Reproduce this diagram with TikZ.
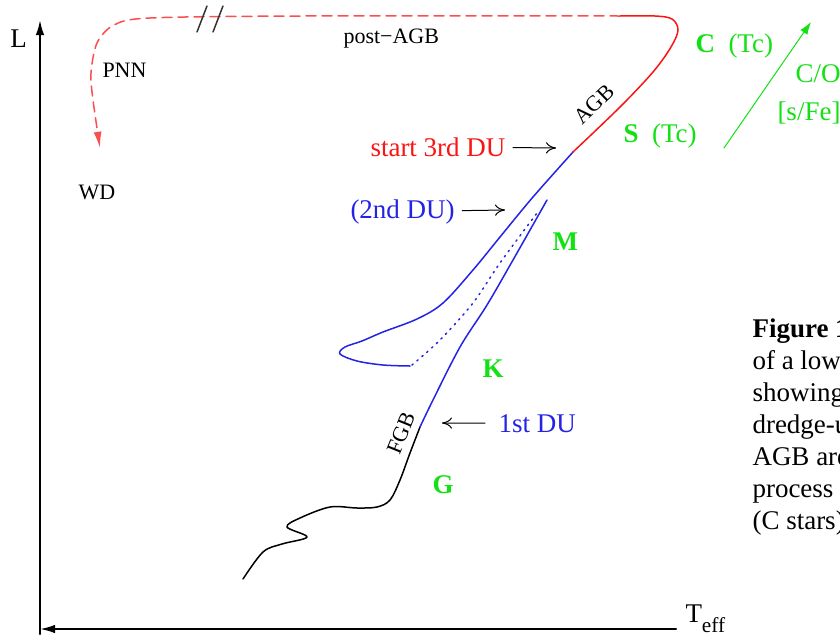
\documentclass[tikz,border=0pt]{standalone}
\usepackage{fontspec}
\setmainfont{Liberation Serif}
\usetikzlibrary{arrows.meta}
\definecolor{specgreen}{RGB}{20,225,20}
\definecolor{trackblue}{RGB}{35,35,230}
\definecolor{trackred}{RGB}{250,20,20}

\begin{document}
\begin{tikzpicture}[x=0.4pt, y=-0.4pt, line join=round, line cap=round, font=\fontsize{10.8}{13}\selectfont]
	\tikzset{
		lbl/.style={inner sep=0pt, anchor=base west},
		tiny/.style={lbl, font=\fontsize{8.8}{10}\selectfont},
		spec/.style={lbl, text=specgreen},
		track/.style={semithick, smooth, tension=0.55},
		pointer/.style={-{To[length=4pt,width=4.5pt]}, thin},
	}
	\useasboundingbox (0,0) rectangle (840,634);
	\clip (0,0) rectangle (840,634);
	% axes
	\coordinate (O) at (40,629);
	\coordinate (Ltop) at (40,20);
	\coordinate (Tend) at (676,629);
	\draw [line width=0.8pt, -{Latex[length=6pt,width=3.4pt]}] (40,634)--(Ltop);
	\draw [line width=0.8pt, -{Latex[length=6pt,width=3.4pt]}] (Tend)--(O);
	\node [lbl] (L) at (10,47) {L};
	\node [lbl] (Teff) at (685,622) {T\raisebox{-4pt}{\fontsize{8.5}{9}\selectfont eff}};
	% evolutionary track
	\draw [track] plot coordinates {(243,579) (263,552) (282,544) (307,537) (287,527) (300,518) (330,507) (357,508) (377,507) (390,500) (400,480) (410,453) (420,427)};
	\draw [track, trackblue] plot coordinates {(420,427) (433,400) (460,347) (487,305) (513,260) (547,200)};
	\draw [trackblue, semithick, dotted, smooth] plot coordinates {(412,365) (440,340) (473,303) (500,263) (537,213)};
	\draw [track, trackblue] plot coordinates {(410,366) (383,365) (357,361) (340,354) (345,347) (362,341) (383,332) (417,319) (443,303) (473,270) (500,237) (533,197) (573,152)};
	\draw [track, trackred] plot coordinates {(573,152) (620,107) (653,72) (671,47) (678,30) (672,19) (655,16) (620,16)};
	\draw [trackred!75, semithick, dash pattern=on 4pt off 2.4pt, smooth, tension=0.5, -{Latex[length=6.5pt,width=3.2pt]}] plot coordinates {(620,16) (300,16) (150,18) (114,25) (97,43) (91,73) (93,100) (100,148)};
	\foreach \x in {197,213}{
		\draw [semithick, black!80] (\x,32)--+(10,-26);
	}
	% labels on the track
	\node [tiny] (pnn) at (102,77) {PNN};
	\node [tiny] (wd) at (78,199) {WD};
	\node [tiny] (pagb) at (343,43) {post−AGB};
	\node [tiny, anchor=center, rotate=44] (agb) at (594,104) {AGB};
	\node [tiny, anchor=center, rotate=68] (fgb) at (401,433) {FGB};
	% dredge-up episodes
	\node [lbl, text=trackred] (du3) at (370,156) {start 3rd DU};
	\node [lbl, text=trackblue] (du2) at (350,218) {(2nd DU)};
	\node [lbl, text=trackblue] (du1) at (498,432) {1st DU};
	\coordinate (du3tip) at (556,148);
	\coordinate (du2tip) at (505,210);
	\coordinate (du1tip) at (442,423);
	\draw [pointer, shorten <=2.8pt] (du3)--(du3tip);
	\draw [pointer, shorten <=2.8pt] (du2)--(du2tip);
	\draw [pointer, shorten <=5.2pt] (du1)--(du1tip);
	% spectral types
	\node [spec] (cstar) at (695,52) {\textbf{C}\ \ (Tc)};
	\node [spec] (sstar) at (623,142) {\textbf{S}\ \ (Tc)};
	\node [spec] (co) at (795,82) {C/O};
	\node [spec] (sfe) at (777,120) {[s/Fe]};
	\node [spec] (mstar) at (552,250) {\textbf{M}};
	\node [spec] (kstar) at (482,377) {\textbf{K}};
	\node [spec] (gstar) at (432,493) {\textbf{G}};
	\coordinate (ctail) at (724,148);
	\coordinate (chead) at (811,22);
	\draw [specgreen, thin, -{Latex[length=5pt,width=3.4pt]}] (ctail)--(chead);
	% caption
	\node [lbl, font=\fontsize{10.8}{13}\selectfont\bfseries] (figcap) at (752,337) {Figure 1};
	\foreach \t [count=\i from 0] in {of a low, showing, dredge-u, AGB are, process, (C stars)}{
		\node [lbl] (cap\i) at (752,{369+32*\i}) {\t};
	}
\end{tikzpicture}
\end{document}
